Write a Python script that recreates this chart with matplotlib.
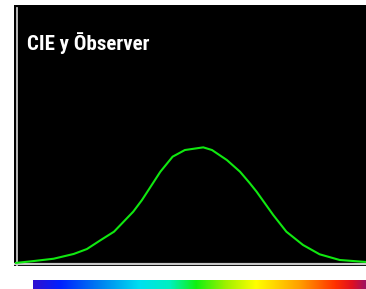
import numpy as np
import matplotlib
matplotlib.use("Agg")
import matplotlib.pyplot as plt
from matplotlib.colors import LinearSegmentedColormap
from matplotlib import font_manager

# =====================================
# Data (nominal wavelength in nm, relative response)
# =====================================
wavelength = [380, 400, 423, 446, 461, 477, 492, 503, 514, 524, 545, 559,
              573, 594, 604, 621, 636, 647, 655, 674, 689, 708, 727, 750, 780]
response = [0.005, 0.021, 0.041, 0.082, 0.124, 0.202, 0.273, 0.359, 0.445,
            0.545, 0.788, 0.917, 0.974, 0.997, 0.974, 0.888, 0.788, 0.691,
            0.616, 0.416, 0.273, 0.159, 0.079, 0.030, 0.013]

title = "CIE y \u014Cbserver"

# spectrum strip colours, left to right
spectrum_colors = ["#3010d0", "#0020ff", "#0080f0", "#00e0f0", "#00f0c0",
                   "#10f010", "#a0f000", "#ffff00", "#ffa000", "#ff3000",
                   "#e01020", "#a01060"]
spectrum_pos = [0.0, 0.08, 0.2, 0.32, 0.41, 0.49, 0.58, 0.67, 0.8, 0.91, 0.96, 1.0]

# pick a narrow face if one is installed
names = {f.name for f in font_manager.fontManager.ttflist}
title_family = "Liberation Sans"
for cand in ["Liberation Sans Narrow", "Roboto Condensed", "DejaVu Sans Condensed"]:
    if cand in names:
        title_family = cand
        break
else:
    narrow = sorted(n for n in names if "Narrow" in n or "Condensed" in n)
    if narrow:
        title_family = narrow[0]

W, H = 366, 289
fig = plt.figure(figsize=(W / 100, H / 100), dpi=100)
fig.patch.set_facecolor("white")

# main black panel
ax = fig.add_axes([14 / W, (H - 266) / H, (W - 14) / W, (266 - 5) / H])
ax.set_facecolor("black")
for s in ax.spines.values():
    s.set_visible(False)
ax.set_xticks([])
ax.set_yticks([])

px_per_nm = 350 / 400.0
ax.set_xlim(380 - 2 / px_per_nm, 780)
ax.set_ylim(-2.5 / 116.5, 258.5 / 116.5)

# gray frame lines
ax.axvline(380 + 0.5 / px_per_nm, ymin=0.0, ymax=(266 - 8) / 261, color="#c8c8c8", lw=1.3)
ax.axhline(-0.5 / 116.5, color="#c8c8c8", lw=1.6)

ax.plot(wavelength, response, color="#10e810", lw=1.5)

ax.text(13 / 352, (266 - 50) / 261, title, transform=ax.transAxes, color="white",
        fontsize=15, fontweight="bold", fontstretch="condensed",
        ha="left", va="baseline", family=[title_family, "DejaVu Sans"])

# spectrum strip
cmap = LinearSegmentedColormap.from_list("spec", list(zip(spectrum_pos, spectrum_colors)))
cax = fig.add_axes([33 / W, 0, (W - 33) / W, 9 / H])
cax.imshow(np.linspace(0, 1, 512)[None, :], aspect="auto", cmap=cmap)
cax.axis("off")

fig.savefig("out.png", dpi=100)
